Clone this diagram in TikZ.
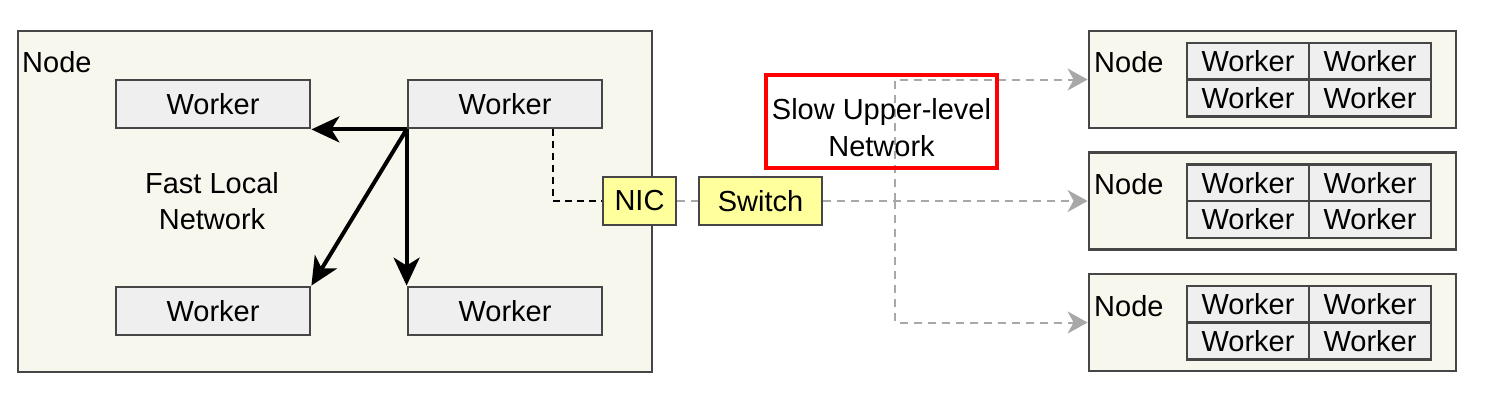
\documentclass[tikz,border=0pt]{standalone}
\usepackage{fontspec}
\setmainfont{Liberation Sans}
\usetikzlibrary{arrows.meta}
\definecolor{nodefill}{HTML}{F8F7EE}
\definecolor{workfill}{HTML}{EFEFEF}
\definecolor{edgegray}{HTML}{464646}
\definecolor{nicfill}{HTML}{FFFF9C}
\definecolor{netgray}{HTML}{A8A8A8}
\tikzset{
  bigbox/.style={draw=edgegray, fill=nodefill, line width=2.8pt, inner sep=0pt},
  workbox/.style={draw=edgegray, fill=workfill, line width=2.8pt, inner sep=0pt, minimum width=194pt, minimum height=48pt},
  cellbox/.style={draw=edgegray, fill=workfill, line width=2.8pt, inner sep=0pt, minimum width=122pt, minimum height=37pt},
  yelbox/.style={draw=edgegray, fill=nicfill, line width=2.8pt, inner sep=0pt, minimum height=48pt},
  lbl/.style={inner sep=0pt, anchor=base west},
  fastarrow/.style={line width=4pt, -{Stealth[length=28pt, width=26pt, inset=8pt]}},
  slowarrow/.style={netgray, line width=2pt, dash pattern=on 8pt off 6pt, -{Stealth[length=20pt, width=22pt, inset=6pt]}},
}
\begin{document}
\begin{tikzpicture}[x=1pt, y=-1pt, font=\fontsize{29}{36}\selectfont]
\useasboundingbox[fill=white] (0,0) rectangle (1490,412);
% left node
\node[bigbox, minimum width=634pt, minimum height=341pt] (ln) at (335,201.5) {};
\node[lbl] (lnl) at (22,73) {Node};
\node[workbox] (wtl) at (213,104) {Worker};
\node[workbox] (wtr) at (505,104) {Worker};
\node[workbox] (wbl) at (213,311) {Worker};
\node[workbox] (wbr) at (505,311) {Worker};
\node[align=center, inner sep=0pt] (fln) at (212,201) {Fast Local\\Network};
% fast arrows
\draw[fastarrow] (wtr.south west) -- (wtl.south east);
\draw[fastarrow] (wtr.south west) -- (wbl.north east);
\draw[fastarrow] (wtr.south west) -- (wbr.north west);
% NIC and switch
\node[yelbox, minimum width=73pt] (nic) at (639.5,201) {NIC};
\node[yelbox, minimum width=123pt] (sw) at (760.5,201) {Switch};
\draw[line width=2pt, dash pattern=on 7pt off 5pt] ([xshift=48pt]wtr.south) |- (nic.west);
\draw[netgray, line width=2pt, dash pattern=on 8pt off 6pt] (nic.east) -- (sw.west);
% right nodes
\foreach \n/\y in {A/79.5, B/201, C/322.5}{
  \node[bigbox, minimum width=367pt, minimum height=97pt] (n\n) at (1272.5,\y) {};
  \node[lbl] (n\n l) at (1094,\y-6.5) {Node};
  \node[cellbox] (n\n a) at (1248,\y-18) {Worker};
  \node[cellbox] (n\n b) at (1370,\y-18) {Worker};
  \node[cellbox] (n\n c) at (1248,\y+18.5) {Worker};
  \node[cellbox] (n\n d) at (1370,\y+18.5) {Worker};
}
% slow network
\coordinate (j) at (895,201);
\draw[slowarrow] (sw.east) -- (nB.west);
\draw[slowarrow] (j) |- (nA.west);
\draw[slowarrow] (j) |- (nC.west);
\node[draw=red, line width=3.5pt, minimum width=231pt, minimum height=93pt, inner sep=0pt] (slowbox) at (881.5,121.5) {};
\node[align=center, inner sep=0pt, font=\fontsize{29}{37}\selectfont] (slow) at (881.5,128) {Slow Upper-level\\Network};
\end{tikzpicture}
\end{document}
